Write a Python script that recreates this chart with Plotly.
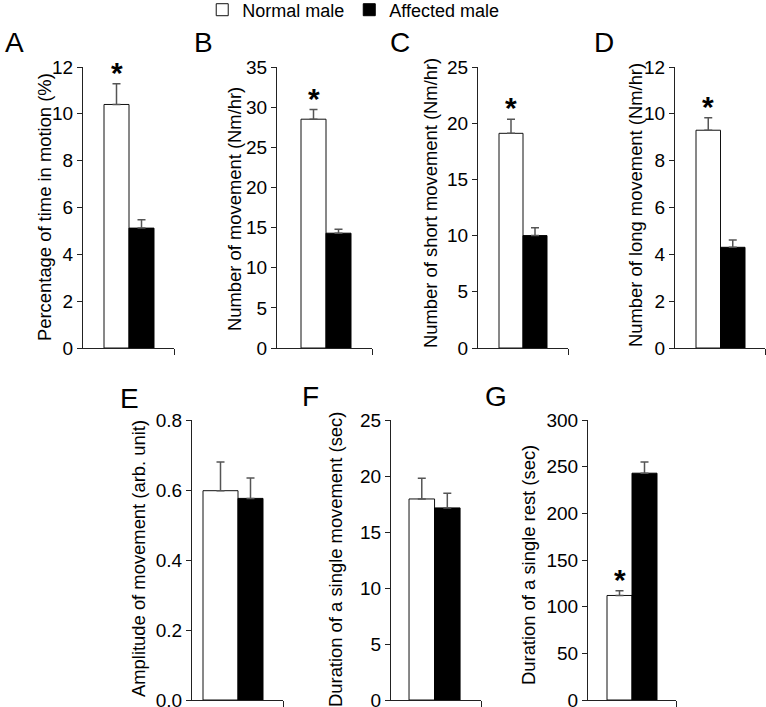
import plotly.graph_objects as go

groups = ["Normal male", "Affected male"]

# Panel values (mean, upper error)
panel_letters = ["A", "B", "C", "D", "E", "F", "G"]
y_titles = [
    "Percentage of time in motion (%)",
    "Number of movement (Nm/hr)",
    "Number of short movement (Nm/hr)",
    "Number of long movement (Nm/hr)",
    "Amplitude of movement (arb. unit)",
    "Duration of a single movement (sec)",
    "Duration of a single rest (sec)",
]
normal_mean = [10.4, 28.5, 19.1, 9.3, 0.598, 17.95, 112]
normal_err = [0.88, 1.2, 1.25, 0.53, 0.082, 1.85, 5]
affected_mean = [5.12, 14.3, 10.0, 4.3, 0.576, 17.15, 243]
affected_err = [0.36, 0.5, 0.7, 0.31, 0.058, 1.3, 12]
significant = [True, True, True, True, False, False, True]
y_max = [12, 35, 25, 12, 0.8, 25, 300]
y_step = [2, 5, 5, 2, 0.2, 5, 50]
y_format = ["", "", "", "", ".1f", "", ""]

# layout (pixel boxes of each plot area in the 766x707 page)
W, H = 766, 707
boxes = [
    (83, 174, 67, 348), (277, 372, 67, 348), (478, 568, 67, 348), (675, 765, 67, 348),
    (192, 283, 420, 700), (391, 481, 420, 700), (588, 676, 420, 700),
]
x_ranges = [(-1.34, 2.3), (-1.46, 2.34), (-1.375, 2.375), (-1.357, 2.316),
            (-1.34, 2.3), (-1.206, 2.32), (-1.26, 2.26)]
letter_pos = [(3, 43), (192, 43), (388, 43), (592, 43), (118, 398), (300, 396), (483, 397)]
title_pos = [(44, 207), (234, 209), (430, 203), (635, 205), (138, 559), (335, 560), (528, 565)]
white_width = [1, 1, 1, 1, 1.4, 1, 1]

FONT = "Arial, Liberation Sans, sans-serif"
fig = go.Figure()
annotations = []

for i in range(7):
    n = "" if i == 0 else str(i + 1)
    xa, ya = "x" + n, "y" + n
    ww = white_width[i]
    fig.add_trace(go.Bar(
        x=[groups[0]], y=[normal_mean[i]], xaxis=xa, yaxis=ya,
        width=[ww], offset=[0.5 - ww],
        name=groups[0], legendgroup="n", showlegend=(i == 0),
        marker=dict(color="white", line=dict(color="#111", width=1)),
        error_y=dict(type="data", symmetric=False, array=[normal_err[i]], arrayminus=[0],
                     color="#555", thickness=1.5, width=4),
    ))
    fig.add_trace(go.Bar(
        x=[groups[1]], y=[affected_mean[i]], xaxis=xa, yaxis=ya,
        width=[1], offset=[-0.5],
        name=groups[1], legendgroup="a", showlegend=(i == 0),
        marker=dict(color="black", line=dict(color="black", width=1)),
        error_y=dict(type="data", symmetric=False, array=[affected_err[i]], arrayminus=[0],
                     color="#555", thickness=1.5, width=4),
    ))
    L, R, T, B = boxes[i]
    x0, x1 = x_ranges[i]
    fig.layout[("xaxis" + n)] = dict(
        domain=[L / W, R / W], anchor=ya, range=[x0, x1], automargin=False,
        type="category", categoryorder="array", categoryarray=groups,
        showline=True, linecolor="#222", linewidth=1,
        tickmode="array", tickvals=[x1], ticktext=[""], ticks="outside",
        ticklen=6, tickcolor="#222", showgrid=False, zeroline=False,
    )
    fig.layout[("yaxis" + n)] = dict(
        domain=[1 - B / H, 1 - T / H], anchor=xa, range=[0, y_max[i]], automargin=False,
        dtick=y_step[i], tick0=0, tickformat=y_format[i], ticklabeloverflow="allow",
        showline=True, linecolor="#222", linewidth=1,
        ticks="outside", ticklen=5, tickcolor="#222",
        showgrid=False, zeroline=False,
        tickfont=dict(size=19, color="black", family=FONT),
    )
    tx, ty = title_pos[i]
    annotations.append(dict(
        x=tx / W, y=1 - ty / H, xref="paper", yref="paper", text=y_titles[i],
        textangle=-90, showarrow=False, xanchor="center", yanchor="middle",
        font=dict(size=18.4, color="black", family=FONT),
    ))
    if significant[i]:
        annotations.append(dict(
            x=groups[0], y=normal_mean[i] + normal_err[i], xref=xa, yref=ya,
            text="<b>*</b>", showarrow=False, yanchor="bottom", yshift=-7,
            font=dict(size=30, color="black", family=FONT),
        ))
    lx, ly = letter_pos[i]
    annotations.append(dict(
        x=lx / W, y=1 - ly / H, xref="paper", yref="paper", text=panel_letters[i],
        showarrow=False, xanchor="left", yanchor="middle",
        font=dict(size=28, color="black", family=FONT),
    ))

fig.update_layout(
    width=W, height=H, margin=dict(l=0, r=0, t=0, b=0, autoexpand=False),
    paper_bgcolor="white", plot_bgcolor="white",
    barmode="overlay", showlegend=True,
    legend=dict(orientation="h", x=0.264, y=1.012, xanchor="left", yanchor="top",
                font=dict(size=18, color="black", family=FONT),
                bgcolor="rgba(0,0,0,0)", itemclick=False, traceorder="normal"),
    annotations=annotations,
    font=dict(family=FONT, color="black"),
)

fig.write_html("out.html", config={"displayModeBar": False},
               post_script="document.body.style.margin='0px';")
